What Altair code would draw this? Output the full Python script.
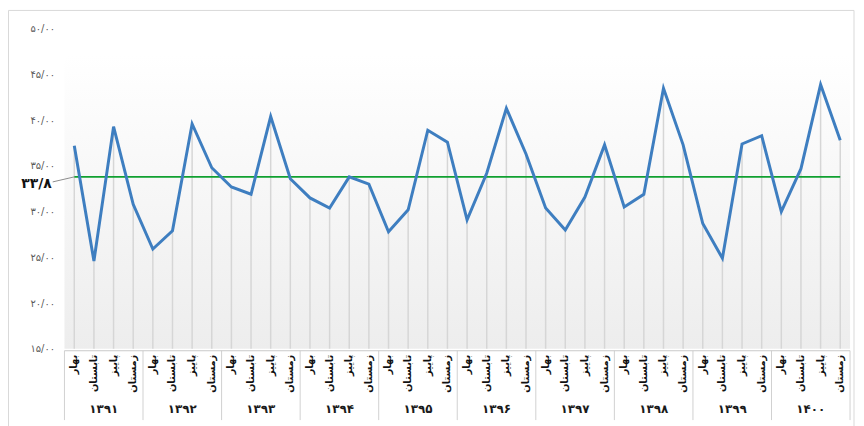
import altair as alt
import pandas as pd

# ---- data ----
years = ["۱۳۹۱", "۱۳۹۲", "۱۳۹۳", "۱۳۹۴", "۱۳۹۵", "۱۳۹۶", "۱۳۹۷", "۱۳۹۸", "۱۳۹۹", "۱۴۰۰"]
seasons = ["بهار", "تابستان", "پاییز", "زمستان"]
values = [
    37.2, 24.6, 39.3, 30.8,
    25.9, 27.9, 39.6, 34.8,
    32.7, 31.9, 40.4, 33.6,
    31.5, 30.4, 33.8, 33.0,
    27.8, 30.2, 38.9, 37.6,
    29.1, 34.2, 41.3, 36.3,
    30.4, 28.0, 31.6, 37.3,
    30.5, 31.9, 43.5, 37.3,
    28.7, 24.9, 37.4, 38.3,
    30.0, 34.7, 43.9, 37.8,
]
mean_value = 33.8
mean_label = "۳۳/۸"
y_ticks = [15, 20, 25, 30, 35, 40, 45, 50]
y_tick_labels = ["۱۵/۰۰", "۲۰/۰۰", "۲۵/۰۰", "۳۰/۰۰", "۳۵/۰۰", "۴۰/۰۰", "۴۵/۰۰", "۵۰/۰۰"]

W, H = 793, 323
FONT = "DejaVu Sans"
X0, X1 = -0.5, 39.5
Y0, Y1 = 15, 50
XU = W / (X1 - X0)   # px per x unit
YU = H / (Y1 - Y0)   # px per y unit


def px_x(p):  # pixel offset from plot left -> x data
    return X0 + p / XU


def px_y(p):  # pixel offset from plot top -> y data
    return Y1 - p / YU


rows = []
for k, yr in enumerate(years):
    for s, sn in enumerate(seasons):
        i = 4 * k + s
        rows.append({"i": i, "value": values[i], "season": sn, "year": yr,
                     "base": Y0, "ty": px_y(H + 6)})
df = pd.DataFrame(rows)
years_df = pd.DataFrame({"year": years,
                         "center": [4 * k + 1.5 for k in range(len(years))],
                         "ty": [px_y(H + 61)] * len(years)})
sep_df = pd.DataFrame({"pos": [4 * k - 0.5 for k in range(len(years) + 1)],
                       "y1": [px_y(H + 2)] * (len(years) + 1),
                       "y2": [px_y(H + 72)] * (len(years) + 1)})
bg_df = pd.DataFrame({"x1": [X0], "x2": [X1], "y1": [Y1], "y2": [Y0]})
mean_df = pd.DataFrame({"x1": [0], "x2": [39], "y": [mean_value]})
leader_df = pd.DataFrame({"lx": [-1.1, 0.0], "ly": [33.25, mean_value]})
mtext_df = pd.DataFrame({"x": [-1.15], "y": [33.0], "t": [mean_label]})
axis_df = pd.DataFrame({"x1": [X0], "x2": [X1], "y": [px_y(H + 2)]})
frame_h = pd.DataFrame({"x1": [px_x(-56.5)], "x2": [px_x(797)], "y": [px_y(-18.5)]})
frame_v = pd.DataFrame({"x": [px_x(-56.5), px_x(797)],
                        "y1": [px_y(-18.5)] * 2, "y2": [px_y(H + 80)] * 2})

xs = alt.Scale(domain=[X0, X1], nice=False, zero=False)
ys = alt.Scale(domain=[Y0, Y1], nice=False, zero=False)

label_expr = " : ".join(
    f"datum.value == {v} ? '{t}'" for v, t in zip(y_ticks, y_tick_labels)
) + " : ''"

y_axis = alt.Axis(
    values=y_ticks,
    labelExpr=label_expr,
    grid=False,
    domain=False,
    ticks=False,
    labelPadding=10,
    labelFontSize=10,
    labelColor="#595959",
    labelFont=FONT,
    title=None,
)


def X(f):
    return alt.X(f, type="quantitative", scale=xs, axis=None)


def Y(f):
    return alt.Y(f, type="quantitative", scale=ys, axis=y_axis, title=None)


grad = alt.LinearGradient(
    gradient="linear", x1=0, x2=0, y1=0, y2=1,
    stops=[
        alt.GradientStop(offset=0, color="#ffffff"),
        alt.GradientStop(offset=0.08, color="#ffffff"),
        alt.GradientStop(offset=1, color="#ededed"),
    ],
)

bg = alt.Chart(bg_df).mark_rect(color=grad).encode(
    x=X("x1"), x2="x2", y=Y("y1"), y2="y2"
)

drops = alt.Chart(df).mark_rule(color="#d6d6d6", strokeWidth=1.5).encode(
    x=X("i"), y=Y("value"), y2="base"
)

line = alt.Chart(df).mark_line(color="#3e7ec0", strokeWidth=3).encode(
    x=X("i"), y=Y("value")
)

mean_rule = alt.Chart(mean_df).mark_rule(color="#10a030", strokeWidth=1.6).encode(
    x=X("x1"), x2="x2", y=Y("y")
)

leader = alt.Chart(leader_df).mark_line(color="#8c8c8c", strokeWidth=1).encode(
    x=X("lx"), y=Y("ly")
)

mean_text = alt.Chart(mtext_df).mark_text(
    align="right", baseline="middle", fontSize=14,
    fontWeight="bold", color="#111111", font=FONT
).encode(x=X("x"), y=Y("y"), text="t:N")

season_text = alt.Chart(df).mark_text(
    angle=270, align="right", baseline="middle", fontSize=10,
    fontWeight="bold", color="#111111", font=FONT
).encode(x=X("i"), y=Y("ty"), text="season:N")

year_text = alt.Chart(years_df).mark_text(
    baseline="middle", align="center", fontSize=12, fontWeight="bold",
    color="#1a1a1a", font=FONT
).encode(x=X("center"), y=Y("ty"), text="year:N")

seps = alt.Chart(sep_df).mark_rule(color="#d0d0d0", strokeWidth=1).encode(
    x=X("pos"), y=Y("y1"), y2="y2"
)

axis_line = alt.Chart(axis_df).mark_rule(color="#c8c8c8", strokeWidth=1).encode(
    x=X("x1"), x2="x2", y=Y("y")
)

frame_top = alt.Chart(frame_h).mark_rule(color="#d9d9d9", strokeWidth=1).encode(
    x=X("x1"), x2="x2", y=Y("y")
)
frame_side = alt.Chart(frame_v).mark_rule(color="#d9d9d9", strokeWidth=1).encode(
    x=X("x"), y=Y("y1"), y2="y2"
)

chart = alt.layer(
    bg, drops, mean_rule, leader, line, mean_text, season_text, year_text,
    seps, axis_line, frame_top, frame_side
).properties(
    width=W, height=H,
    autosize=alt.AutoSizeParams(type="none"),
    padding={"left": 57, "top": 19, "right": 6, "bottom": 76},
).configure(font=FONT).configure_view(stroke=None)

chart.save("out.html", embed_options={"renderer": "svg", "actions": False})
